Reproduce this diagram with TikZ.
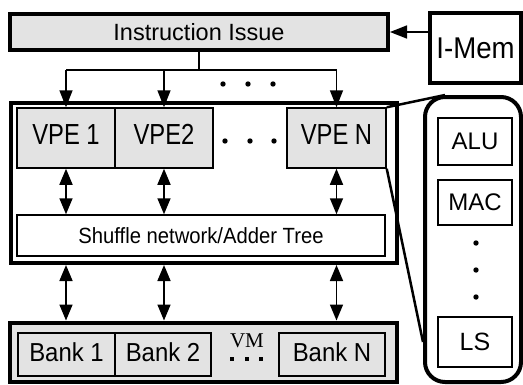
\documentclass[tikz,border=0pt]{standalone}
\usepackage{fontspec}
\setmainfont{Liberation Sans}
\newfontfamily\serifvm{Liberation Serif}
\newfontfamily\tightsans{Liberation Sans}[FakeStretch=0.82]
\newfontfamily\narrowsans{Liberation Sans}[FakeStretch=0.92]
\usetikzlibrary{arrows.meta,calc}

\begin{document}
\begin{tikzpicture}[x=1pt,y=-1pt,
  box/.style={draw, line width=1.5pt, rectangle, inner sep=0pt, anchor=center},
  heavy/.style={box, line width=4pt},
  shade/.style={fill=gray!22},
  wire/.style={line width=1.6pt},
  tip/.style={wire, -{Triangle[length=17pt,width=13pt]}},
  both/.style={wire, {Triangle[length=16pt,width=13pt]}-{Triangle[length=16pt,width=13pt]}},
  lbl/.style={font=\fontsize{24}{28}\selectfont},
  vpelbl/.style={font=\tightsans\fontsize{29}{32}\selectfont, text depth=7pt},
  banklbl/.style={font=\narrowsans\fontsize{26}{29}\selectfont, text depth=4pt},
  ]
\useasboundingbox (0,0) rectangle (523,384);

% instruction path
\node[heavy, shade, minimum width=378pt, minimum height=36pt, font=\fontsize{23.5}{26}\selectfont]
  (issue) at (199,32) {Instruction Issue};
\node[heavy, minimum width=91pt, minimum height=70pt, font=\narrowsans\fontsize{30}{33}\selectfont]
  (imem) at (475.5,48) {I-Mem};
\draw[tip] (imem.west |- issue.east) -- (issue.east);

% vector unit
\node[heavy, minimum width=386pt, minimum height=160pt] (main) at (203.5,183) {};
\node[box, shade, minimum width=98pt, minimum height=60pt, vpelbl] (vpe1) at (66,138) {VPE 1};
\node[box, shade, minimum width=98pt, minimum height=60pt, vpelbl] (vpe2) at (164,138) {VPE2};
\node[box, shade, minimum width=99pt, minimum height=60pt, vpelbl] (vpeN) at (336.5,138) {VPE N};
\node[box, fill=white, minimum width=368pt, minimum height=41pt, font=\narrowsans\fontsize{22}{25}\selectfont]
  (shuf) at (201,235.5) {Shuffle network/Adder Tree};

% broadcast tree
\coordinate (split) at (199,70);
\draw[wire] (issue.south) -- (split);
\draw[wire] (vpe1 |- split) -- (vpeN |- split);
\draw[tip] (vpe1 |- split) -- (vpe1.north);
\draw[tip] (vpe2 |- split) -- (vpe2.north);
\draw[tip] (vpeN |- split) -- (vpeN.north);
\foreach \x in {223,248,273} \fill (\x,84) circle (2.7pt);
\foreach \x in {225,250,274} \fill (\x,141) circle (2.7pt);

% VPE <-> shuffle
\draw[both] (vpe1.south) -- (vpe1 |- shuf.north);
\draw[both] (vpe2.south) -- (vpe2 |- shuf.north);
\draw[both] (vpeN.south) -- (vpeN |- shuf.north);

% vector memory
\node[heavy, shade, minimum width=387pt, minimum height=59pt] (vm) at (203.5,352) {};
\node[box, minimum width=97pt, minimum height=43pt, banklbl] (bank1) at (66.5,354.5) {Bank 1};
\node[box, minimum width=96pt, minimum height=43pt, banklbl] (bank2) at (163,354.5) {Bank 2};
\node[box, minimum width=106pt, minimum height=43pt, banklbl] (bankN) at (332,354.5) {Bank N};
\node[inner sep=0pt, font=\serifvm\fontsize{21}{24}\selectfont] (vmlbl) at (247,341) {VM};
\foreach \x in {232,247,261} \fill (\x-2.2,359-2.2) rectangle (\x+2.2,359+2.2);

% main <-> memory
\draw[both] (vpe1 |- main.south) -- (vpe1 |- vm.north);
\draw[both] (vpe2 |- main.south) -- (vpe2 |- vm.north);
\draw[both] (vpeN |- main.south) -- (vpeN |- vm.north);

% processing element detail
\node[heavy, rounded corners=20pt, minimum width=96pt, minimum height=285pt] (pe) at (473,239.5) {};
\node[box, minimum width=74pt, minimum height=47pt, lbl] (alu) at (475,141.5) {ALU};
\node[box, minimum width=74pt, minimum height=45pt, lbl] (mac) at (475,202.5) {MAC};
\node[box, minimum width=74pt, minimum height=50pt, font=\fontsize{25}{28}\selectfont] (ls) at (475,342) {LS};
\foreach \y in {243,270,297} \fill (476,\y) circle (2.7pt);

% zoom lines
\draw[line width=2.5pt] (vpeN.north east) -- ([xshift=22pt]pe.north west);
\draw[line width=2.5pt] (vpeN.south east) -- ([yshift=42pt]pe.south west);
\end{tikzpicture}
\end{document}
